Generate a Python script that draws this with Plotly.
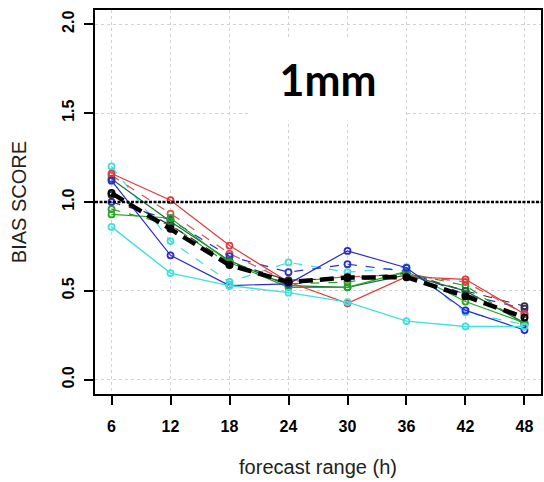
import plotly.graph_objects as go

# Forecast lead times (hours)
lead_hours = [6, 12, 18, 24, 30, 36, 42, 48]

# Bias score per experiment at the 1 mm threshold
red_solid = [1.16, 1.01, 0.755, 0.55, 0.43, 0.58, 0.565, 0.37]
red_dash = [1.15, 0.935, 0.71, 0.55, 0.58, 0.59, 0.55, 0.37]
blue_solid = [1.12, 0.70, 0.53, 0.54, 0.725, 0.63, 0.39, 0.28]
blue_dash = [1.00, 0.90, 0.695, 0.605, 0.65, 0.61, 0.48, 0.40]
green_solid = [0.93, 0.91, 0.66, 0.52, 0.52, 0.61, 0.44, 0.32]
green_dash = [0.96, 0.87, 0.65, 0.54, 0.55, 0.60, 0.53, 0.31]
darkgreen_solid = [1.13, 0.89, 0.67, 0.53, 0.52, 0.59, 0.50, 0.32]
cyan_solid = [0.86, 0.60, 0.53, 0.49, 0.437, 0.33, 0.30, 0.30]
cyan_dash = [1.20, 0.78, 0.55, 0.66, 0.605, 0.633, 0.38, 0.31]
black_dash = [1.04, 0.87, 0.66, 0.56, 0.57, 0.60, 0.50, 0.414]
ensemble_mean = [1.05, 0.85, 0.645, 0.55, 0.575, 0.577, 0.47, 0.35]

y_ticks = [0.0, 0.5, 1.0, 1.5, 2.0]
y_tick_labels = ["0.0", "0.5", "1.0", "1.5", "2.0"]
unbiased = 1.0
threshold_label = "1mm"

series = [
    (cyan_dash, "#3fdede", "dash", 1.2),
    (red_dash, "#e05050", "dash", 1.2),
    (blue_dash, "#3030c8", "dash", 1.2),
    (green_dash, "#2a9a2a", "dash", 1.2),
    (black_dash, "#333333", "dash", 1.2),
    (darkgreen_solid, "#1e6e3c", "solid", 1.2),
    (green_solid, "#22aa22", "solid", 1.2),
    (red_solid, "#e03a3a", "solid", 1.2),
    (blue_solid, "#2a2ad0", "solid", 1.2),
    (cyan_solid, "#40e0e0", "solid", 1.4),
]

fig = go.Figure()

# Unbiased reference at 1.0
fig.add_shape(type="line", xref="paper", x0=0, x1=1, yref="y", y0=unbiased, y1=unbiased,
              line=dict(color="black", width=2.6, dash="3px,1.5px"), layer="above")

for values, color, dash, width in series:
    fig.add_trace(go.Scatter(
        x=lead_hours, y=values, mode="lines+markers",
        line=dict(color=color, width=width, dash=dash),
        marker=dict(symbol="circle-open", size=6, color=color, line=dict(width=1.8, color=color)),
        showlegend=False,
    ))

fig.add_trace(go.Scatter(
    x=lead_hours, y=ensemble_mean, mode="lines+markers",
    line=dict(color="black", width=4.5, dash="14px,7px"),
    marker=dict(symbol="circle-open", size=6, color="black", line=dict(width=2, color="black")),
    showlegend=False,
))

fig.add_annotation(
    x=28.0, y=1.69, xref="x", yref="y", text="<b>" + threshold_label + "</b>",
    showarrow=False, font=dict(family="Lato", size=43, color="black"),
    bgcolor="white", width=152, height=80, valign="middle",
)

fig.update_layout(
    width=544, height=482,
    margin=dict(l=95, r=1, t=10, b=88),
    paper_bgcolor="white", plot_bgcolor="white",
    font=dict(family="Liberation Sans", color="black"),
)

fig.update_xaxes(
    range=[4.32, 49.68], tickvals=lead_hours, ticktext=[str(h) for h in lead_hours],
    showgrid=True, gridcolor="#d2d2d2", griddash="dot", gridwidth=1,
    showline=True, linecolor="black", linewidth=2, mirror=True,
    ticks="outside", ticklen=9, tickwidth=2, tickcolor="black",
    tickfont=dict(size=16, weight="bold", family="Liberation Sans"),
    ticklabelstandoff=8,
    title=dict(text="forecast range (h)", font=dict(size=20, color="#222"), standoff=26),
    zeroline=False,
)
fig.update_yaxes(
    range=[-0.08, 2.08], tickvals=y_ticks, ticktext=y_tick_labels, tickangle=-90,
    showgrid=True, gridcolor="#d2d2d2", griddash="dot", gridwidth=1,
    showline=True, linecolor="black", linewidth=2, mirror=True,
    ticks="outside", ticklen=9, tickwidth=2, tickcolor="black",
    tickfont=dict(size=16, weight="bold", family="Liberation Sans"),
    ticklabelstandoff=4,
    title=dict(text="BIAS SCORE", font=dict(size=20, color="#222"), standoff=28),
    zeroline=False,
)

fig.write_html("out.html")
